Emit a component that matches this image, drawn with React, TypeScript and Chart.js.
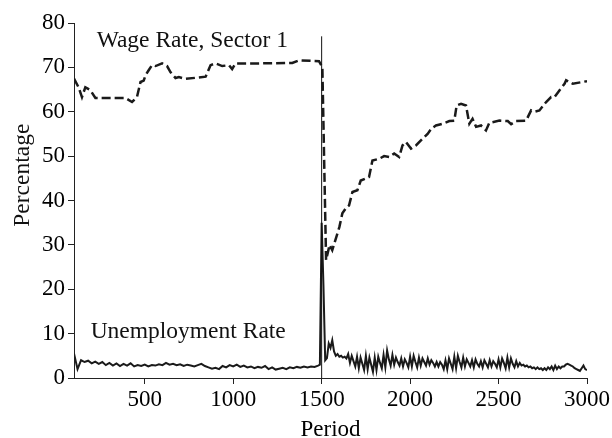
import React, { useEffect, useRef } from "react";
import { Chart, registerables } from "chart.js";

Chart.register(...registerables);

const FONT = '"Liberation Serif", "Times New Roman", Times, serif';

// Wage rate, sector 1 (dashed)
const wagePeriods = [
  100, 126, 145, 164, 192, 221, 391, 428, 456, 476,
  494, 504, 523, 541, 561, 598, 626, 646, 674, 693,
  730, 844, 872, 900, 938, 976, 994, 1013, 1146, 1334,
  1372, 1485, 1504, 1525, 1545, 1560, 1600, 1617, 1636, 1655,
  1674, 1702, 1721, 1768, 1787, 1825, 1853, 1882, 1910, 1938,
  1957, 1976, 2005, 2033, 2070, 2099, 2120, 2146, 2184, 2222,
  2250, 2263, 2288, 2316, 2335, 2353, 2373, 2401, 2429, 2448,
  2505, 2552, 2571, 2599, 2656, 2684, 2703, 2731, 2769, 2797,
  2816, 2844, 2873, 2882, 2920, 3000,
];
const wageValues = [
  67.5, 65.5, 63.3, 65.5, 64.9, 63.1, 63.1, 62.2, 63.3, 66.7,
  67.0, 68.2, 69.4, 70.5, 70.3, 70.9, 70.3, 68.9, 67.6, 67.8,
  67.4, 67.9, 70.5, 70.9, 70.3, 70.5, 69.6, 70.9, 70.9, 71.0,
  71.6, 71.4, 70.0, 26.6, 30.0, 28.8, 34.0, 37.1, 38.2, 38.9,
  41.9, 42.3, 44.5, 45.3, 49.0, 49.4, 50.0, 49.8, 50.6, 49.8,
  52.4, 53.2, 51.7, 52.4, 53.9, 55.0, 56.2, 56.9, 57.3, 57.9,
  58.0, 61.4, 61.8, 61.4, 57.3, 58.4, 56.6, 56.9, 55.8, 57.5,
  58.0, 57.9, 57.2, 57.9, 58.0, 60.3, 60.0, 60.3, 62.2, 63.3,
  63.3, 64.8, 66.3, 67.1, 66.3, 66.9,
];

// Unemployment rate (solid): periods 100..1480 every 20
const unempEarlyStart = 100;
const unempEarlyStep = 20;
const unempEarly = [
  5.5, 2.0, 4.0, 3.6, 3.9, 3.3, 3.7, 3.2, 3.6, 2.9,
  3.4, 2.8, 3.3, 2.7, 3.2, 2.8, 3.3, 2.6, 2.9, 2.7,
  3.0, 2.6, 2.9, 2.8, 3.1, 2.9, 3.4, 3.0, 3.2, 2.9,
  3.1, 2.7, 3.0, 2.8, 2.6, 2.9, 3.2, 2.7, 2.4, 2.1,
  2.3, 2.0, 2.7, 2.4, 2.9, 2.6, 3.0, 2.5, 2.8, 2.4,
  2.6, 2.2, 2.5, 2.3, 2.7, 2.0, 2.4, 1.9, 2.1, 2.3,
  2.0, 2.4, 2.2, 2.5, 2.3, 2.6, 2.4, 2.6, 2.5, 2.8,
];
// Unemployment rate: periods 1490..3000 every 10
const unempLateStart = 1490;
const unempLateStep = 10;
const unempLate = [
  3.0, 35.0, 21.0, 4.0, 4.5, 7.8, 6.8, 8.5, 6.0, 5.0,
  5.4, 4.8, 5.0, 4.6, 4.8, 4.4, 5.4, 3.4, 5.0, 3.8,
  2.6, 4.8, 2.2, 4.6, 3.2, 1.8, 5.0, 2.0, 4.6, 3.0,
  1.4, 4.6, 1.8, 4.8, 3.4, 2.2, 5.2, 2.4, 6.2, 4.2,
  2.8, 5.2, 3.0, 4.6, 3.6, 2.8, 4.4, 2.6, 4.2, 3.4,
  2.4, 4.8, 2.6, 5.0, 3.6, 2.4, 4.6, 2.8, 4.4, 3.6,
  2.8, 4.4, 3.0, 4.0, 3.4, 2.6, 3.6, 2.6, 3.6, 3.0,
  2.0, 4.0, 2.0, 4.4, 3.2, 2.0, 4.8, 2.2, 5.0, 3.6,
  2.4, 4.6, 2.6, 4.2, 3.4, 2.6, 4.0, 2.4, 4.2, 3.2,
  2.6, 3.8, 2.4, 4.0, 3.2, 2.4, 4.0, 2.6, 3.8, 3.2,
  2.4, 4.2, 2.4, 4.4, 3.4, 2.2, 4.6, 2.4, 4.4, 3.2,
  2.4, 3.8, 2.6, 3.4, 2.8, 3.0, 2.6, 2.8, 2.4, 2.6,
  2.2, 2.4, 2.0, 2.4, 2.0, 2.2, 1.8, 2.2, 1.8, 2.4,
  2.0, 2.6, 1.8, 2.8, 2.0, 2.6, 2.2, 2.6, 2.6, 3.0,
  3.2, 3.0, 2.8, 2.6, 2.2, 2.0, 1.8, 1.6, 2.2, 2.8,
  2.0, 1.8,
];

// Vertical marker at the shock period
const shockPeriods = [1500, 1500];
const shockValues = [0, 77];

const xTicks = [500, 1000, 1500, 2000, 2500, 3000];
const yTicks = [0, 10, 20, 30, 40, 50, 60, 70, 80];

const seriesLabels = [
  { text: "Wage Rate, Sector 1", period: 228, value: 74.5 },
  { text: "Unemployment Rate", period: 194, value: 9.0 },
];
const yTitle = { text: "Percentage", value: 45.7 };

const textPlugin = {
  id: "seriesText",
  afterDatasetsDraw(chart: any) {
    const { ctx, scales } = chart;
    const x = scales.x;
    const y = scales.y;
    ctx.save();
    ctx.fillStyle = "#111";
    ctx.font = `23.5px ${FONT}`;
    ctx.textAlign = "left";
    ctx.textBaseline = "alphabetic";
    seriesLabels.forEach((l) => {
      ctx.fillText(l.text, x.getPixelForValue(l.period), y.getPixelForValue(l.value));
    });
    ctx.translate(23, y.getPixelForValue(yTitle.value));
    ctx.rotate(-Math.PI / 2);
    ctx.textAlign = "center";
    ctx.textBaseline = "middle";
    ctx.fillText(yTitle.text, 0, 0);
    ctx.restore();
  },
};

export default function App() {
  const ref = useRef<HTMLCanvasElement>(null);
  useEffect(() => {
    const unempPoints = [
      ...unempEarly.map((v, i) => ({ x: unempEarlyStart + i * unempEarlyStep, y: v })),
      ...unempLate.map((v, i) => ({ x: unempLateStart + i * unempLateStep, y: v })),
    ];
    const wagePoints = wagePeriods.map((p, i) => ({ x: p, y: wageValues[i] }));
    const shockPoints = shockPeriods.map((p, i) => ({ x: p, y: shockValues[i] }));
    const chart = new Chart(ref.current!, {
      type: "line",
      data: {
        datasets: [
          {
            label: "Shock",
            data: shockPoints,
            borderColor: "#111",
            borderWidth: 1,
            pointRadius: 0,
          },
          {
            label: "Unemployment Rate",
            data: unempPoints,
            borderColor: "#1a1a1a",
            borderWidth: 2,
            pointRadius: 0,
            tension: 0,
          },
          {
            label: "Wage Rate, Sector 1",
            data: wagePoints,
            borderColor: "#1a1a1a",
            borderWidth: 2.5,
            borderDash: [9, 4],
            pointRadius: 0,
            tension: 0,
          },
        ],
      },
      options: {
        animation: false,
        responsive: false,
        layout: { padding: { top: 23, right: 25, left: 0, bottom: 0 } },
        plugins: { legend: { display: false }, tooltip: { enabled: false } },
        scales: {
          x: {
            type: "linear",
            min: 100,
            max: 3000,
            afterBuildTicks: (s: any) => {
              s.ticks = xTicks.map((v) => ({ value: v }));
            },
            afterFit: (s: any) => {
              s.height = 60;
            },
            grid: { drawOnChartArea: false, tickLength: 6, color: "#222" },
            border: { color: "#222", width: 1 },
            ticks: {
              font: { family: FONT, size: 23 },
              color: "#000",
              padding: 2,
              maxRotation: 0,
              autoSkip: false,
              callback: (v: any) => String(v),
            },
            title: {
              display: true,
              text: "Period",
              font: { family: FONT, size: 23 },
              color: "#000",
              padding: { top: 0, bottom: -6 },
            },
          },
          y: {
            type: "linear",
            min: 0,
            max: 80,
            afterBuildTicks: (s: any) => {
              s.ticks = yTicks.map((v) => ({ value: v }));
            },
            afterFit: (s: any) => {
              s.width = 74;
            },
            grid: { drawOnChartArea: false, tickLength: 6, color: "#222" },
            border: { color: "#222", width: 1 },
            ticks: {
              font: { family: FONT, size: 23 },
              color: "#000",
              padding: 3,
              callback: (v: any) => String(v),
            },
          },
        },
      },
      plugins: [textPlugin],
    } as any);
    return () => chart.destroy();
  }, []);
  return (
    <div style={{ position: "fixed", left: 0, top: 0, width: 612, height: 438, background: "#fff" }}>
      <canvas ref={ref} width={612} height={438} style={{ display: "block" }} />
    </div>
  );
}
